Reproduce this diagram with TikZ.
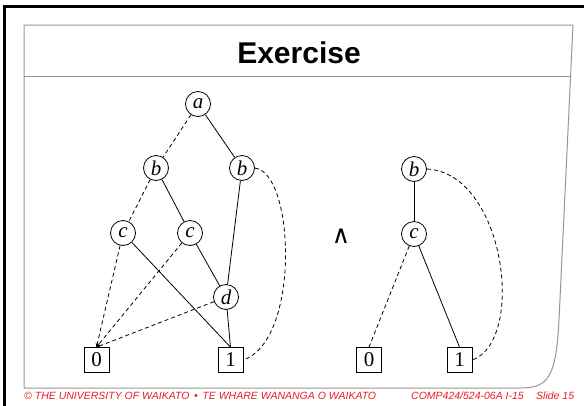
\documentclass[tikz,border=0pt]{standalone}
\usepackage{fontspec}
\setmainfont{Liberation Serif}
\newfontfamily\arialfont{Liberation Sans}
\newfontfamily\symfont{DejaVu Sans}
\usetikzlibrary{arrows.meta}
\definecolor{footred}{RGB}{230,30,35}
\definecolor{framegray}{RGB}{150,150,150}
\begin{document}
\begin{tikzpicture}[x=1pt,y=-1pt,
 var/.style={circle,draw,line width=0.8pt,minimum size=25pt,inner sep=0pt,font=\fontsize{21}{21}\selectfont\itshape},
 term/.style={rectangle,draw,line width=0.8pt,minimum size=25pt,inner sep=0pt,font=\fontsize{21}{21}\selectfont},
 hi/.style={line width=0.8pt},
 lo/.style={line width=0.8pt,dash pattern=on 4pt off 3pt},
 loarr/.style={lo,-{Stealth[length=4pt,width=3.5pt]}},
 foot/.style={anchor=base west,inner sep=0pt,text=footred,font=\arialfont\itshape\fontsize{10.5}{10.5}\selectfont},
]
\useasboundingbox (0,0) rectangle (584,405);
% frame
\draw[line width=3pt,line cap=rect] (4,405) -- (4,6) -- (584,6);
\draw[framegray,line width=1pt] (24,388) -- (24,25) -- (573,25) -- (559,320)
  .. controls (556,378) and (548,388) .. (520,388) -- cycle;
\draw[framegray,line width=1pt] (24,76) -- (570.6,76);
% title
\node[anchor=base,inner sep=0pt,font=\arialfont\bfseries\fontsize{30}{30}\selectfont] (title) at (299,63) {Exercise};
% left graph
\node[var] (a) at (198,104) {a};
\node[var] (bL) at (156,168) {b};
\node[var] (bR) at (242,168) {b};
\node[var] (cL) at (123,233) {c};
\node[var] (cM) at (190,233) {c};
\node[var] (d) at (226,297) {d};
\node[term] (zL) at (96.5,360) {0};
\node[term] (oL) at (230.5,360) {1};
\draw[lo] (a) -- (bL);
\draw[hi] (a) -- (bR);
\draw[lo] (bL) -- (cL);
\draw[hi] (bL) -- (cM);
\draw[hi] (bR) -- (d);
\draw[lo] (bR.east) .. controls +(40,5) and +(57,-20) .. (oL.east);
\draw[loarr] (cL) -- (zL.north);
\draw[hi] (cL) -- (oL.north);
\draw[loarr] (cM) -- (zL.north);
\draw[hi] (cM) -- (d);
\draw[loarr] (d) -- (zL.north);
\draw[hi] (d) -- (oL.north);
% operator
\node[inner sep=0pt,font=\symfont\fontsize{25}{25}\selectfont] (op) at (341,236) {∧};
% right graph
\node[var] (b2) at (414,169) {b};
\node[var] (c2) at (414,234) {c};
\node[term] (z2) at (369,360) {0};
\node[term] (o2) at (459.5,360) {1};
\draw[hi] (b2) -- (c2);
\draw[lo] (b2.east) .. controls +(78,4) and +(54,-20) .. (o2.east);
\draw[lo] (c2) -- (z2.north);
\draw[hi] (c2) -- (o2.north);
% footer
\node[foot] (f1) at (24,399) {© THE UNIVERSITY OF WAIKATO \,•\, TE WHARE WANANGA O WAIKATO};
\node[foot] (f2) at (411,399) {COMP424/524-06A I-15};
\node[foot] (f3) at (536,399) {Slide 15};
\end{tikzpicture}
\end{document}
